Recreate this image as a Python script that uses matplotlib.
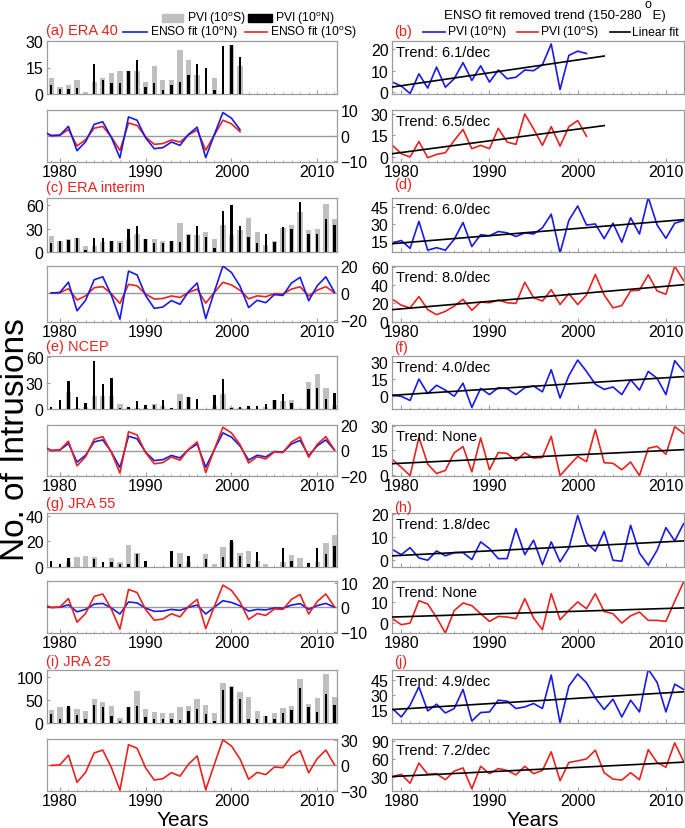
import numpy as np
import matplotlib
matplotlib.use('Agg')
import matplotlib.pyplot as plt
from matplotlib.lines import Line2D
from matplotlib.patches import Rectangle

plt.rcParams['font.family'] = ['Liberation Sans', 'DejaVu Sans']
plt.rcParams['mathtext.fontset'] = 'custom'
plt.rcParams['mathtext.rm'] = 'Liberation Sans'
plt.rcParams['mathtext.it'] = 'Liberation Sans:italic'
plt.rcParams['mathtext.bf'] = 'Liberation Sans:bold'

# ---------------- data ----------------
years = list(range(1979, 2013))
years_era40 = list(range(1979, 2002))
years_enso_era40 = list(range(1978, 2002))
years_enso_long = list(range(1978, 2013))
xticks_major = [1980, 1990, 2000, 2010]

# ERA 40
pvi_s_era40 = [9, 4, 5, 8, 1, 7, 9, 12, 13, 13, 13, 7, 16, 8, 8, 25, 19, 11, 0, 9, 0, 28, 16]
pvi_n_era40 = [5, 3, 3, 3.5, 0, 17, 8, 6, 6, 13, 19, 4, 6, 2, 5, 7, 11, 17, 15, 2, 27, 28, 21]
enso_n_era40 = [1.8, 0, 0.2, 3.6, -5.9, -2.4, 4.4, 5.4, -0.7, -8.7, 7.3, 6.0, -0.9, -5.1, -4.7,
                -2.5, -3.8, 0.5, 3.3, -8.6, 0.4, 9.0, 6.8, 2.3]
enso_s_era40 = [1.5, 0, 0.1, 2.4, -4.0, -1.6, 2.9, 3.6, -0.5, -5.8, 4.9, 4.0, -0.6, -3.4, -3.1,
                -1.7, -2.5, 0.3, 2.2, -5.7, 0.2, 6.0, 4.6, 1.5]
detr_n_era40 = [4.6, 2.8, -0.8, 8.5, 1.8, 11.7, 2.2, 6.2, 13.8, 5.4, 12.3, 4.6, 10.3, 6.2, 6.9,
                10.3, 10, 12.8, 22.6, 1.1, 17.2, 19.2, 18.1]
detr_s_era40 = [8.1, 2.3, 0, 10.8, -0.5, 1.8, 3, 11.5, 19.2, 5.8, 8.1, 5.8, 20, 10.4, 8.8, 30,
                19.6, 8.1, 21.2, 7.6, 21.2, 25.4, 14.5]
fit_years_era40 = [1979, 2003]
fit_n_era40 = [2.3, 16.9]
fit_s_era40 = [2.3, 21.9]

# ERA interim
pvi_s_erai = [21, 14.6, 16, 18, 8, 8, 12.4, 14.6, 14.6, 16, 23.6, 17, 17, 14.6, 14.6, 36.5, 23.6,
              22.3, 25.3, 16, 35, 22, 28, 44, 25, 9, 14.6, 31, 34, 51.5, 27.5, 29, 61, 42.5]
pvi_n_erai = [11.6, 14.6, 15.5, 18, 2, 18.4, 18.4, 14.6, 11.6, 30, 33, 17, 11.6, 11.6, 14.6, 13,
              22.3, 33, 19, 4.7, 52, 60, 32.6, 19, 11, 23, 13, 32, 29, 64, 23.6, 23.6, 42.5, 34]
enso_n_erai = [0, 0.4, 8.0, -13.2, -5.4, 9.8, 12.0, -1.6, -19.4, 16.2, 13.4, -2.0, -11.4, -10.4,
               -5.6, -8.4, 1.0, 7.4, -19.0, 0.8, 20.0, 15.2, 5.0, -10.8, -5.4, -7.2, -1.2, -1.8,
               7.4, 11.6, -5.8, 5.4, 12.0, 0.6]
enso_s_erai = [0, 0.2, 3.2, -5.2, -2.1, 3.9, 4.7, -0.6, -7.7, 6.4, 5.3, -0.8, -4.5, -4.1, -2.2,
               -3.3, 0.4, 2.9, -7.5, 0.3, 7.9, 6.0, 2.0, -4.3, -2.1, -2.8, -0.5, -0.7, 2.9, 4.6,
               -2.3, 2.1, 4.7, 0.2]
detr_n_erai = [13.4, 15.6, 8.7, 32.4, 7.1, 9.3, 7.1, 16.6, 31.4, 10.3, 20.7, 19.7, 23.5, 22.3,
               19.1, 22.3, 21.3, 26.7, 38.7, 4.6, 33.3, 45.9, 29.2, 30.1, 17.2, 30.8, 14.1, 35.5,
               21.3, 53.5, 29.2, 17.5, 30.8, 33]
detr_s_erai = [24.4, 18, 15, 27.4, 13.1, 7.5, 11.2, 16.9, 24.4, 12.4, 21.4, 20.6, 23.6, 20.6,
               19.9, 43.1, 26.2, 22.5, 34.9, 18.7, 30.7, 18.7, 29.2, 51.7, 29.2, 15, 17.6, 33.7,
               34.5, 51.3, 33.7, 30, 60.7, 45]
fit_years_full = [1979, 2012]
fit_n_erai = [12.8, 33.9]
fit_s_erai = [13.1, 40.4]

# NCEP
pvi_s_ncep = [0, 0, 19.8, 1, 2, 15.2, 15.2, 15.2, 5.3, 1.5, 1.5, 1.5, 5.7, 3, 0, 17.1, 13.7, 0, 0,
              3, 17.1, 1.9, 1, 1.5, 0, 2.7, 10.6, 9.5, 10.6, 0.5, 31, 40.7, 23.9, 4.2]
pvi_n_ncep = [2.3, 10.6, 32.3, 13.7, 6.8, 55, 28.9, 35.4, 1.1, 2.7, 8.7, 4.9, 4.6, 10.6, 0.8, 9.1,
              13.3, 11.8, 0, 16.3, 34.2, 1.1, 2.3, 3.4, 3.8, 5.7, 10.3, 17.1, 7.2, 0, 22.8, 24.7,
              11.8, 17.9]
enso_s_ncep = [3.8, 0, 0.4, 7.3, -12.0, -4.9, 8.9, 10.9, -1.5, -17.7, 14.7, 12.2, -1.8, -10.4,
               -9.5, -5.1, -7.6, 0.9, 6.7, -17.3, 0.7, 18.2, 13.8, 4.6, -9.8, -4.9, -6.6, -1.1,
               -1.6, 6.7, 10.6, -5.3, 4.9, 10.9, 0.5]
enso_n_ncep = [2.9, 0, 0.3, 5.5, -9.1, -3.7, 6.8, 8.3, -1.1, -13.4, 11.2, 9.2, -1.4, -7.9, -7.2,
               -3.9, -5.8, 0.7, 5.1, -13.1, 0.6, 13.8, 10.5, 3.5, -7.5, -3.7, -5.0, -0.8, -1.2,
               5.1, 8.0, -4.0, 3.7, 8.3, 0.4]
detr_n_ncep = [0.9, 0, -3.6, 15, 2.4, 9.6, 5.4, 0, 11.4, -9.6, 6.9, 1.5, 7.5, 6.6, 1.5, 7.5, 9,
               3.9, 23.1, -1.5, 18, 31.5, 21.6, 10.5, 6, 8.1, 1.5, 14.4, 5.4, 21.6, 15.6, 1.5,
               30.9, 21.6]
detr_s_ncep = [9.4, 4.7, -0.4, 23, 6.6, 0.9, 2.8, 13.5, 17.3, 1.9, 22.5, 3.2, 13.7, 13.1, 8.8,
               13.5, 10.3, 10.7, 23.5, -0.4, 5.6, 11.3, 8.1, 27.6, 7.5, 7.1, 3.2, 7.9, -0.4, 16.3,
               17.4, 12.6, 29.4, 25.3]
fit_n_ncep = [0.9, 17.1]
fit_s_ncep = [6.9, 15.4]

# JRA 55
pvi_s_jra55 = [0, 0, 4, 8, 8.8, 7.5, 0, 6.7, 4, 16.8, 10.7, 0, 0, 0, 0, 10.7, 4, 0, 9.9, 2.7, 15.5,
               19.2, 10.7, 12.8, 4.8, 2.7, 0, 4, 9.3, 6.7, 0, 4, 18.7, 25]
pvi_n_jra55 = [4.5, 2.7, 6.7, 0, 0, 5.9, 3.7, 4, 2.1, 2.7, 10.1, 4.8, 0, 0, 12.8, 2.1, 8.8, 0, 5.9,
               0, 8, 20.8, 8.8, 2.7, 11.5, 0, 0, 14.7, 4.5, 0, 3.5, 14.7, 9.9, 16]
enso_s_jra55 = [1.4, 0, 0.2, 3.7, -6.1, -2.5, 4.6, 5.6, -0.7, -9.0, 7.5, 6.2, -0.9, -5.3, -4.8,
                -2.6, -3.9, 0.5, 3.4, -8.8, 0.4, 9.3, 7.1, 2.3, -5.0, -2.5, -3.3, -0.6, -0.8, 3.4,
                5.4, -2.7, 2.5, 5.6, 0.3]
enso_n_jra55 = [0.5, 0, 0.1, 1.1, -1.8, -0.8, 1.4, 1.7, -0.2, -2.7, 2.3, 1.9, -0.3, -1.6, -1.5,
                -0.8, -1.2, 0.1, 1.0, -2.7, 0.1, 2.8, 2.1, 0.7, -1.5, -0.8, -1.0, -0.2, -0.3, 1.0,
                1.6, -0.8, 0.8, 1.7, 0.1]
detr_n_jra55 = [4.6, 2.4, 5.4, 1, 0, 4, 1.9, 3.3, 3.3, 0.3, 7.9, 5, 0.7, 0.7, 13.6, 2.4, 8.6, -1.9,
                7.9, -0.7, 5.3, 19.3, 7.4, 3.9, 12.4, 0, -0.4, 15, 3.1, -2.1, 4.3, 14, 8.3, 15.7]
detr_s_jra55 = [2.1, -0.8, 0, 10.8, 9.2, 2.7, -4.8, 6, 9.7, 8.4, 4.5, 0.8, 3.2, 2.9, 2.1, 11.8,
                2.4, -3.2, 14.2, 1.6, 6.1, 10.2, 6.9, 14.2, 5.6, 4.5, 0, 3.5, 5.3, 1.3, 1.3, 0.8,
                10.5, 19.8]
fit_n_jra55 = [1.9, 8.3]
fit_s_jra55 = [2.9, 7.3]

# JRA 25
pvi_s_jra25 = [28.6, 34.3, 33, 29.3, 25, 50.7, 45, 35.7, 11.4, 34.3, 68.6, 30.7, 24.3, 22.1, 22.1,
               34.3, 35.7, 51.4, 39.3, 22.1, 85.7, 79.3, 66.4, 55.7, 25.7, 15.7, 21.4, 32.1, 36.4,
               93.6, 41.4, 53.6, 105.7, 55]
pvi_n_jra25 = [18.6, 9.3, 35.7, 17.9, 8.6, 39.3, 34.3, 15.7, 5, 34.3, 35.7, 12.1, 8.6, 8.6, 8.6,
               5.7, 25, 30, 19.3, 5, 71.4, 77.1, 50.7, 9.3, 8.6, 15.7, 8.6, 22.1, 28.6, 75.7, 34.3,
               23.6, 61.4, 37.9]
enso_s_jra25 = [0, 0.6, 12.0, -19.8, -8.1, 14.7, 18.0, -2.4, -29.1, 24.3, 20.1, -3.0, -17.1,
                -15.6, -8.4, -12.6, 1.5, 11.1, -28.5, 1.2, 30.0, 22.8, 7.5, -16.2, -8.1, -10.8,
                -1.8, -2.7, 11.1, 17.4, -8.7, 8.1, 18.0, 0.9]
detr_n_jra25 = [16.7, 8.3, 20, 38.3, 14.3, 21, 12.3, 16.7, 35.7, 4.3, 12.7, 13.3, 25, 24, 16.7,
                18.3, 21.7, 16.7, 50, 2.3, 39, 51, 42.3, 27.3, 15.7, 26, 8.3, 25, 13.3, 55.7, 42.7,
                13.3, 41, 35.7]
detr_s_jra25 = [30, 33.7, 18.8, 52.5, 33.7, 34.8, 24.7, 39, 44.4, 9.7, 47.1, 34.8, 43.4, 40.2,
                32.7, 47.1, 34.8, 40.2, 71.2, 23, 53.5, 56.2, 59.4, 73.9, 36.4, 25.7, 24.1, 36.4,
                24.7, 74.9, 53.5, 45.5, 86.1, 55.1]
fit_n_jra25 = [15.7, 33.3]
fit_s_jra25 = [30, 54]

left_titles = ['(a) ERA 40', '(c) ERA interim', '(e) NCEP', '(g) JRA 55', '(i) JRA 25']
right_titles = ['(b)', '(d)', '(f)', '(h)', '(j)']
trend_n_labels = ['Trend: 6.1/dec', 'Trend: 6.0/dec', 'Trend: 4.0/dec', 'Trend: 1.8/dec', 'Trend: 4.9/dec']
trend_s_labels = ['Trend: 6.5/dec', 'Trend: 8.0/dec', 'Trend: None', 'Trend: None', 'Trend: 7.2/dec']

# ---------------- layout / style ----------------
W, H = 685, 829
fig = plt.figure(figsize=(W / 100, H / 100), dpi=100)

FRAME = '#9c9c9c'
BLUE = '#1a1ae6'
RED = '#e8231f'
GREY = '#bfbfbf'
TITLE_RED = '#e8231f'
LW = 1.2

LX0, LX1 = 47, 337
RX0, RX1 = 392, 684
rows = [(42, 95, 111, 163), (199, 253, 267, 323), (357, 410, 426, 477),
        (514, 568, 582, 634), (671, 724, 740, 792)]
left_title_y = [31, 188, 347, 504, 662]
right_title_y = [32, 185, 348, 508, 662]


def fx(px):
    return px / W


def fy(py):
    return 1 - py / H


def ax_at(x0, x1, y0, y1):
    return fig.add_axes([x0 / W, 1 - y1 / H, (x1 - x0) / W, (y1 - y0) / H])


def style(ax, xlim, yside='left', xlabels=False):
    for s in ax.spines.values():
        s.set_color(FRAME)
        s.set_linewidth(0.9)
    ax.set_xlim(*xlim)
    ax.set_xticks(xticks_major)
    ax.set_xticks(years, minor=True)
    ax.tick_params(axis='x', which='major', direction='in', color=FRAME, length=3,
                   labelsize=11.5, pad=1.5)
    ax.tick_params(axis='x', which='minor', direction='in', color=FRAME, length=1.8)
    if not xlabels:
        ax.tick_params(axis='x', labelbottom=False)
    ax.tick_params(axis='y', direction='in', color=FRAME, length=2.5, labelsize=11.5, pad=2.5)
    if yside == 'right':
        ax.yaxis.tick_right()


LXLIM = (1978.5, 2012.3)
RXLIM = (1978.95, 2012.05)

bar_sets = [(years_era40, pvi_s_era40, pvi_n_era40, (0, 30), [0, 15, 30]),
            (years, pvi_s_erai, pvi_n_erai, (0, 69), [0, 30, 60]),
            (years, pvi_s_ncep, pvi_n_ncep, (0, 61), [0, 30, 60]),
            (years, pvi_s_jra55, pvi_n_jra55, (0, 42), [0, 20, 40]),
            (years, pvi_s_jra25, pvi_n_jra25, (0, 114), [0, 50, 100])]

enso_sets = [(years_enso_era40, enso_n_era40, enso_s_era40, (-10.3, 10), [-10, 0, 10]),
             (years, enso_n_erai, enso_s_erai, (-21.5, 20), [-20, 0, 20]),
             (years_enso_long, enso_n_ncep, enso_s_ncep, (-19.5, 20), [-20, 0, 20]),
             (years_enso_long, enso_n_jra55, enso_s_jra55, (-10.6, 11), [-10, 0, 10]),
             (years, None, enso_s_jra25, (-30, 31), [-30, 0, 30])]

detr_sets = [(years_era40, detr_n_era40, detr_s_era40, fit_years_era40, fit_n_era40, fit_s_era40,
              (-1, 24), [0, 10, 20], (-3.5, 32.8), [0, 15, 30]),
             (years, detr_n_erai, detr_s_erai, fit_years_full, fit_n_erai, fit_s_erai,
              (5.5, 52.9), [15, 30, 45], (-0.5, 61), [0, 20, 40, 60]),
             (years, detr_n_ncep, detr_s_ncep, fit_years_full, fit_n_ncep, fit_s_ncep,
              (-11, 35), [0, 15, 30], (-0.6, 30.4), [0, 15, 30]),
             (years, detr_n_jra55, detr_s_jra55, fit_years_full, fit_n_jra55, fit_s_jra55,
              (-2.9, 20.3), [0, 10, 20], (-4.8, 20.3), [0, 10, 20]),
             (years, detr_n_jra25, detr_s_jra25, fit_years_full, fit_n_jra25, fit_s_jra25,
              (2.3, 55), [15, 30, 45], (5.9, 92.6), [30, 60, 90])]

for i, (ytop, ybot, ltop, lbot) in enumerate(rows):
    # ---- left: bars
    yrs_b, ps, pn, ylim_b, yt_b = bar_sets[i]
    axb = ax_at(LX0, LX1, ytop, ybot)
    axb.bar(yrs_b, ps, width=0.62, color=GREY, zorder=2)
    axb.bar(yrs_b, pn, width=0.28, color='black', zorder=3)
    style(axb, LXLIM)
    axb.set_ylim(*ylim_b)
    axb.set_yticks(yt_b)

    # ---- left: ENSO fit
    yrs_e, en, es, ylim_e, yt_e = enso_sets[i]
    axe = ax_at(LX0, LX1, ltop, lbot)
    axe.axhline(0, color='#9a9a9a', lw=1.0, zorder=1)
    if en is not None:
        axe.plot(yrs_e, en, color=BLUE, lw=LW, zorder=3)
    axe.plot(yrs_e, es, color=RED, lw=LW, zorder=2 if en is not None and i < 2 else 4)
    style(axe, LXLIM, yside='right', xlabels=True)
    axe.set_ylim(*ylim_e)
    axe.set_yticks(yt_e)

    fig.text(fx(LX0 - 1), fy(left_title_y[i]), left_titles[i], color=TITLE_RED,
             fontsize=10.5, ha='left', va='center')

    # ---- right: ENSO removed trend
    yrs_d, dn, ds, fyrs, fn, fs, ylim_n, yt_n, ylim_s, yt_s = detr_sets[i]
    axn = ax_at(RX0, RX1, ytop, ybot)
    axn.plot(yrs_d, dn, color=BLUE, lw=LW, zorder=2)
    axn.plot(fyrs, fn, color='black', lw=LW, zorder=3)
    style(axn, RXLIM)
    axn.set_ylim(*ylim_n)
    axn.set_yticks(yt_n)
    axn.text(0.012, 0.93, trend_n_labels[i], transform=axn.transAxes, fontsize=10.5,
             ha='left', va='top', zorder=5)

    axs = ax_at(RX0, RX1, ltop, lbot)
    axs.plot(yrs_d, ds, color=RED, lw=LW, zorder=2)
    axs.plot(fyrs, fs, color='black', lw=LW, zorder=3)
    style(axs, RXLIM, xlabels=True)
    axs.set_ylim(*ylim_s)
    axs.set_yticks(yt_s)
    axs.text(0.012, 0.93, trend_s_labels[i], transform=axs.transAxes, fontsize=10.5,
             ha='left', va='top', zorder=5)

    fig.text(fx(RX0 + 2), fy(right_title_y[i]), right_titles[i], color=TITLE_RED,
             fontsize=10.5, ha='left', va='center')

# ---------------- legends ----------------
LEG_FS = 8.7
fig.add_artist(Rectangle((fx(162), fy(23)), fx(183) - fx(162), fy(15) - fy(23),
                         transform=fig.transFigure, color=GREY))
fig.text(fx(187), fy(19), r'PVI (10$^{\rm o}$S)', fontsize=LEG_FS, ha='left', va='center')
fig.add_artist(Rectangle((fx(248), fy(23)), fx(272) - fx(248), fy(15) - fy(23),
                         transform=fig.transFigure, color='black'))
fig.text(fx(275), fy(19), r'PVI (10$^{\rm o}$N)', fontsize=LEG_FS, ha='left', va='center')

fig.add_artist(Line2D([fx(123), fx(147)], [fy(33), fy(33)], transform=fig.transFigure,
                      color=BLUE, lw=LW))
fig.text(fx(150), fy(33), r'ENSO fit (10$^{\rm o}$N)', fontsize=LEG_FS, ha='left', va='center')
fig.add_artist(Line2D([fx(245), fx(267)], [fy(33), fy(33)], transform=fig.transFigure,
                      color=RED, lw=LW))
fig.text(fx(270), fy(33), r'ENSO fit (10$^{\rm o}$S)', fontsize=LEG_FS, ha='left', va='center')

fig.text(fx(555), fy(16), 'ENSO fit removed trend (150-280   E)', fontsize=9.5,
         ha='center', va='center')
fig.text(fx(648), fy(5), 'o', fontsize=9, ha='center', va='center')

fig.add_artist(Line2D([fx(423), fx(445)], [fy(33), fy(33)], transform=fig.transFigure,
                      color=BLUE, lw=LW))
fig.text(fx(447), fy(33), r'PVI (10$^{\rm o}$N)', fontsize=LEG_FS, ha='left', va='center')
fig.add_artist(Line2D([fx(517), fx(538)], [fy(33), fy(33)], transform=fig.transFigure,
                      color=RED, lw=LW))
fig.text(fx(540), fy(33), r'PVI (10$^{\rm o}$S)', fontsize=LEG_FS, ha='left', va='center')
fig.add_artist(Line2D([fx(610), fx(630)], [fy(33), fy(33)], transform=fig.transFigure,
                      color='black', lw=LW))
fig.text(fx(632), fy(33), 'Linear fit', fontsize=LEG_FS, ha='left', va='center')

# ---------------- axis labels ----------------
fig.text(fx(24), fy(440), 'No. of Intrusions', fontsize=24, rotation=90,
         rotation_mode='anchor', ha='center', va='baseline')
fig.text(fx(183), fy(821), 'Years', fontsize=15, ha='center', va='center')
fig.text(fx(533), fy(821), 'Years', fontsize=15, ha='center', va='center')

fig.savefig('out.png', dpi=100)
